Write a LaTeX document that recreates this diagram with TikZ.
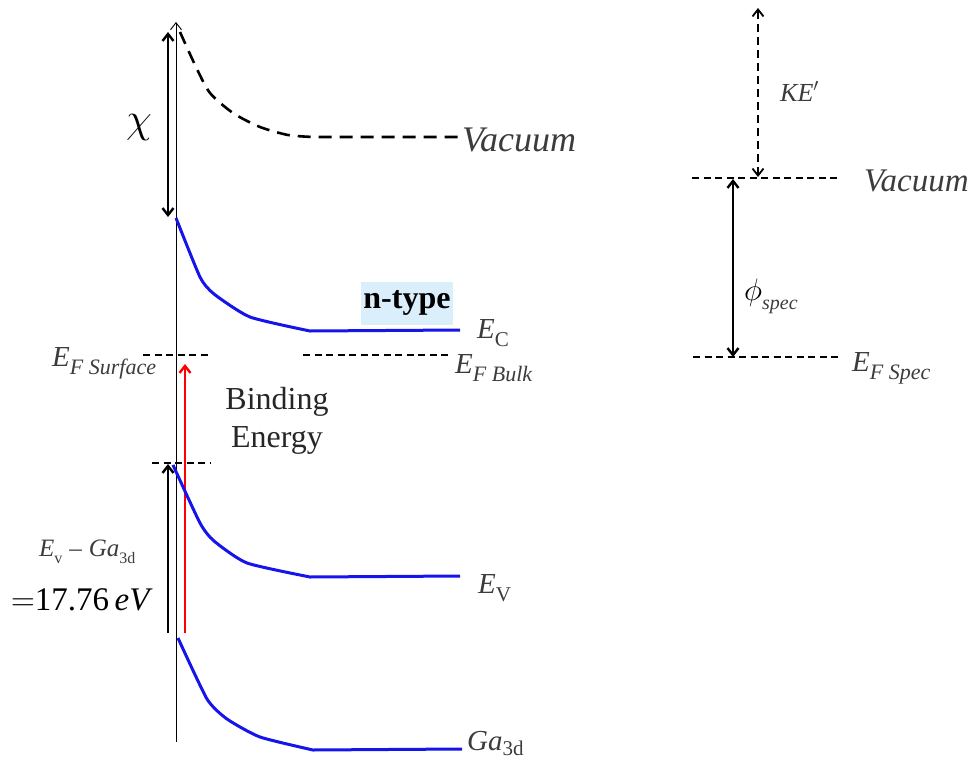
\RequirePackage{fix-cm}
\documentclass[tikz,border=0pt]{standalone}
\usepackage{fontspec}
\setmainfont{Liberation Serif}
\usepackage{xcolor}
\definecolor{bandblue}{RGB}{20,20,235}
\definecolor{tagbg}{RGB}{218,238,252}
\definecolor{lblgray}{RGB}{60,60,60}
\usetikzlibrary{arrows.meta}

% level label: italic symbol with a lowered subscript
\newcommand{\lvlsym}[3]{\textit{#1}\raisebox{-0.28em}{\fontsize{#3}{#3}\selectfont #2}}

\begin{document}
\begin{tikzpicture}[
  x=1pt, y=-1pt,
  >={Straight Barb[length=7pt,width=11pt]},
  lvldash/.style={black, line width=1.8pt, dash pattern=on 7pt off 4.5pt},
  vacdash/.style={black, line width=2.6pt, dash pattern=on 13pt off 8pt},
  bandline/.style={bandblue, line width=3pt, line join=round},
  gaparrow/.style={black, line width=2.4pt},
  lbl/.style={font=\fontsize{33}{36}\selectfont\itshape, text=lblgray, inner sep=0pt},
  elbl/.style={font=\fontsize{29}{32}\selectfont, text=lblgray, inner sep=0pt, anchor=base west}
]
\useasboundingbox (0,0) rectangle (970,763);

% --- Surface axis ---
\coordinate (axbot) at (176,742);
\coordinate (axtop) at (176,22);
\draw[->, black, line width=0.9pt] (axbot) -- (axtop);

% --- Vacuum level (bent) ---
\coordinate (vacs) at (180,32);
\coordinate (vace) at (458,137);
\draw[vacdash] plot[smooth, tension=0.45] coordinates
  {(vacs) (196,67) (210,93) (233,113) (260,127) (288,135) (313,137)} -- (vace);
\node[lbl, font=\fontsize{36}{38}\selectfont\itshape, anchor=west] (vacL) at (462,140) {Vacuum};

% electron affinity
\coordinate (chitop) at (168,32);
\coordinate (chibot) at (168,217);
\draw[gaparrow, <->] (chibot) -- (chitop);
\node[font=\fontsize{42}{42}\selectfont] (chiL) at (139,128) {$\chi$};

% --- Conduction band ---
\coordinate (ecs) at (176,218);
\coordinate (ece) at (460,330);
\draw[bandline] plot[smooth, tension=0.35] coordinates
  {(ecs) (200,277) (214,294) (250,317) (310,331)} -- (ece);
\node[elbl] (ecL) at (477,338) {\lvlsym{E}{C}{21}};

\node[fill=tagbg, font=\fontsize{32}{34}\selectfont\bfseries, inner sep=2pt,
      minimum width=92pt, minimum height=43pt] (ntype) at (407,303) {n-type};

% --- Fermi levels ---
\coordinate (efs1) at (143,355);
\coordinate (efs2) at (211,355);
\draw[lvldash] (efs1) -- (efs2);
\node[elbl] (efsL) at (52,366) {\lvlsym{E}{\textit{F Surface}}{22}};

\coordinate (efb1) at (303,355);
\coordinate (efb2) at (452,355);
\draw[lvldash] (efb1) -- (efb2);
\node[elbl] (efbL) at (455,373) {\lvlsym{E}{\textit{F Bulk}}{22}};

% binding energy (red)
\coordinate (bebot) at (185,633);
\coordinate (betop) at (185,364);
\draw[->, red, line width=2.4pt] (bebot) -- (betop);
\node[font=\fontsize{32}{38}\selectfont, align=center, text=black!85] (beL) at (277,421)
  {Binding\\Energy};

% --- Valence band ---
\coordinate (ev1) at (152,463);
\coordinate (ev2) at (211,463);
\draw[lvldash] (ev1) -- (ev2);

\coordinate (evs) at (173,465);
\coordinate (eve) at (460,576);
\draw[bandline] plot[smooth, tension=0.35] coordinates
  {(evs) (200,523) (214,541) (247,563) (310,577)} -- (eve);
\node[elbl] (evL) at (478,593) {\lvlsym{E}{V}{21}};

\coordinate (gabot) at (168,633);
\coordinate (gatop) at (168,464);
\draw[gaparrow, ->] (gabot) -- (gatop);
\node[font=\fontsize{25}{28}\selectfont, text=lblgray, anchor=base west, inner sep=0pt] (evgaL) at (39,556)
  {\lvlsym{E}{v}{16}\;--\;\lvlsym{Ga}{3d}{16}};
\node[font=\fontsize{33}{36}\selectfont, anchor=base west, inner sep=0pt] (evgaV) at (11,610)
  {$=$17.76\,\textit{eV}};

% --- Ga 3d core level ---
\coordinate (gas) at (178,638);
\coordinate (gae) at (462,749);
\draw[bandline] plot[smooth, tension=0.35] coordinates
  {(gas) (207,699) (227,719) (260,737) (313,750)} -- (gae);
\node[elbl] (gaL) at (467,750) {\textit{Ga}\raisebox{-0.2em}{\fontsize{21}{21}\selectfont 3d}};

% --- Spectrometer ---
\coordinate (sv1) at (692,178);
\coordinate (sv2) at (840,178);
\draw[lvldash] (sv1) -- (sv2);
\node[lbl, anchor=west] (svL) at (864,181) {Vacuum};

\coordinate (sf1) at (693,357);
\coordinate (sf2) at (840,357);
\draw[lvldash] (sf1) -- (sf2);
\node[elbl] (sfL) at (852,371) {\lvlsym{E}{\textit{F Spec}}{22}};

\coordinate (ketop) at (758,8);
\coordinate (kebot) at (758,177);
\draw[<->, black, line width=1.8pt, dash pattern=on 8pt off 5pt] (kebot) -- (ketop);
\node[font=\fontsize{26}{28}\selectfont\itshape, text=lblgray, anchor=base west, inner sep=0pt] (keL) at (780,101) {KE$'$};

\coordinate (phitop) at (733,179);
\coordinate (phibot) at (733,357);
\draw[gaparrow, <->] (phibot) -- (phitop);
\node[font=\fontsize{31}{32}\selectfont, anchor=base west, inner sep=0pt] (phiL) at (744,300)
  {$\phi$\raisebox{-0.3em}{\fontsize{20}{20}\selectfont\textit{\color{lblgray}spec}}};

\end{tikzpicture}
\end{document}
